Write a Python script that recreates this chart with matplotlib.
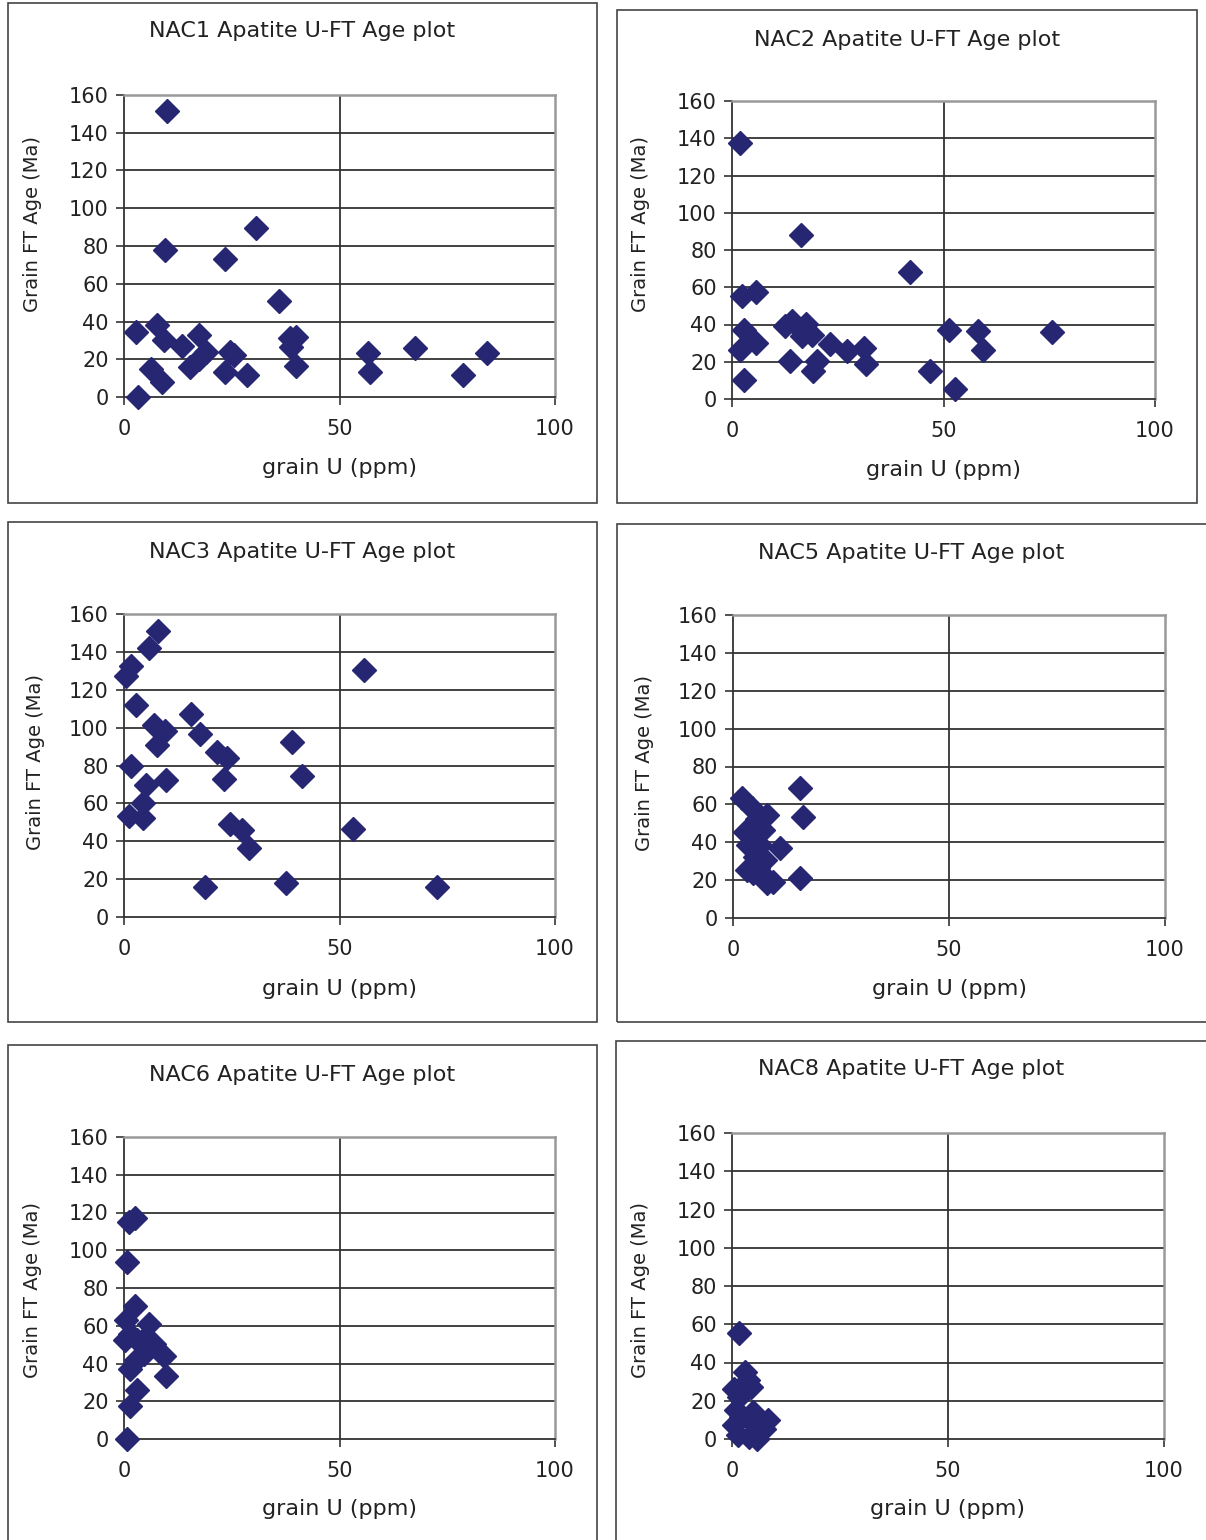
import numpy as np
import matplotlib
matplotlib.use("Agg")
import matplotlib.pyplot as plt
from matplotlib.patches import Rectangle

W, H = 1206, 1540

# grain U (ppm) and grain FT age (Ma)
nac1_u = [10.0, 9.5, 23.5, 30.7, 35.9, 2.7, 7.6, 9.2, 13.4, 17.4, 6.3, 8.8, 3.2,
          15.2, 17.5, 19.0, 24.5, 25.6, 23.5, 28.6, 38.4, 40.0, 38.8, 39.8,
          56.6, 57.1, 67.6, 78.6, 84.2]
nac1_age = [151.6, 77.7, 73.0, 89.4, 50.7, 34.3, 38.3, 30.4, 26.9, 32.7, 15.0, 7.8, 0.0,
            15.9, 20.3, 23.9, 23.9, 22.0, 13.3, 11.5, 31.0, 31.8, 26.5, 16.3,
            23.3, 13.3, 26.0, 11.8, 23.3]

nac2_u = [1.8, 16.3, 42.1, 2.4, 5.7, 2.9, 5.7, 2.0, 2.8, 12.6, 14.2, 17.5, 16.5,
          18.9, 23.2, 27.1, 31.1, 13.6, 20.0, 19.1, 31.6, 46.7, 51.4, 52.7,
          58.2, 59.4, 75.7]
nac2_age = [137.7, 88.3, 68.3, 55.5, 57.6, 37.2, 30.1, 26.1, 10.2, 39.0, 41.7, 40.3, 33.6,
            34.6, 29.5, 25.9, 27.4, 20.2, 20.6, 15.2, 18.6, 15.0, 37.2, 5.2,
            36.7, 26.1, 35.8]

nac3_u = [7.8, 5.9, 1.6, 0.5, 55.6, 2.8, 15.6, 7.0, 9.5, 7.7, 17.6, 21.6, 23.8,
          23.2, 38.9, 41.3, 1.6, 9.7, 5.1, 4.5, 1.2, 4.3, 24.6, 27.3, 29.1,
          18.8, 37.6, 53.2, 72.6]
nac3_age = [151.0, 141.8, 132.5, 127.2, 130.4, 111.9, 107.0, 101.3, 98.3, 90.7, 96.4, 87.2, 83.7,
            73.1, 92.5, 74.5, 79.6, 72.2, 69.6, 60.3, 53.2, 52.5, 49.3, 46.2, 36.5,
            15.9, 18.1, 46.3, 15.9]

nac5_u = [15.5, 16.3, 15.5, 2.0, 4.3, 7.8, 5.5, 2.8, 4.7, 7.0, 3.5, 6.3, 10.9,
          5.1, 7.4, 3.2, 5.9, 7.4, 7.8, 9.3, 4.6]
nac5_age = [68.5, 53.2, 21.0, 63.2, 57.9, 54.4, 52.1, 45.6, 43.8, 46.5, 38.5, 38.5, 36.8,
            32.4, 30.6, 25.3, 26.2, 21.8, 18.3, 19.2, 24.0]

nac6_u = [1.2, 2.5, 0.8, 2.5, 5.8, 0.4, 1.5, 0.2, 3.1, 5.0, 7.0, 9.3, 4.6,
          2.7, 1.5, 9.7, 3.1, 1.5, 0.6]
nac6_age = [115.0, 117.0, 93.8, 70.3, 61.1, 62.8, 55.8, 52.6, 52.2, 54.0, 50.4, 44.2, 45.1,
            41.6, 37.2, 33.3, 25.7, 17.7, 0.0]

nac8_u = [1.7, 2.9, 3.6, 0.5, 4.4, 1.7, 0.9, 2.1, 8.3, 5.2, 7.5, 1.3, 4.0,
          5.9, 0.5, 4.8]
nac8_age = [55.2, 35.1, 30.8, 25.9, 27.3, 22.0, 15.0, 11.5, 9.8, 8.0, 5.4, 1.9, 1.0,
            0.2, 7.2, 14.0]

names = ["NAC1", "NAC2", "NAC3", "NAC5", "NAC6", "NAC8"]
xs = [nac1_u, nac2_u, nac3_u, nac5_u, nac6_u, nac8_u]
ys = [nac1_age, nac2_age, nac3_age, nac5_age, nac6_age, nac8_age]

# pixel layout: chart box (l, t, r, b) and plot area (l, t, r, b)
boxes = [(8, 3, 597, 503), (617, 10, 1197, 503),
         (8, 522, 597, 1022), (617, 524, 1210, 1022),
         (8, 1045, 597, 1545), (616, 1041, 1210, 1545)]
plots = [(124, 95, 555, 397), (732, 101, 1155, 399),
         (124, 614, 555, 917), (733, 615, 1165, 918),
         (124, 1137, 555, 1439), (732, 1133, 1164, 1439)]
# text centres in pixels
title_pos = [(302, 31), (907, 40), (302, 552), (911, 553), (302, 1075), (911, 1069)]
ylab_pos = [(33, 224), (641, 224), (36, 762), (644, 763), (33, 1290), (641, 1290)]
xlab_pos = [(340, 468), (943, 470), (340, 989), (949, 989), (340, 1509), (948, 1509)]

MARK = "#262673"
TXT = "#222222"

fig = plt.figure(figsize=(W / 100, H / 100), dpi=100)
fig.patch.set_facecolor("white")


def fx(px):
    return px / W


def fy(py):
    return 1 - py / H


for i in range(6):
    bl, bt, br, bb = boxes[i]
    fig.add_artist(Rectangle((fx(bl), fy(bb)), fx(br - bl), (bb - bt) / H,
                             transform=fig.transFigure, fill=False,
                             edgecolor="#444444", lw=1.2))

    l, t, r, b = plots[i]
    ax = fig.add_axes([fx(l), fy(b), fx(r - l), (b - t) / H])
    ax.plot(xs[i], ys[i], "D", ms=12, color=MARK, mec=MARK, clip_on=False, zorder=5)
    ax.set_xlim(0, 100)
    ax.set_ylim(0, 160)
    ax.set_xticks([0, 50, 100])
    ax.set_yticks(np.arange(0, 161, 20))
    for v in range(20, 160, 20):
        ax.axhline(v, color="#333333", lw=1.3, zorder=1)
    ax.axvline(50, color="#333333", lw=1.3, zorder=1)
    for s in ["top", "right"]:
        ax.spines[s].set_color("#999999")
        ax.spines[s].set_linewidth(1.8)
    for s in ["left", "bottom"]:
        ax.spines[s].set_color("#333333")
        ax.spines[s].set_linewidth(1.3)
    ax.tick_params(axis="y", direction="out", length=6, width=1.2, color="#333333",
                   labelsize=15, labelcolor=TXT, pad=5)
    ax.tick_params(axis="x", direction="out", length=6, width=1.2, color="#333333",
                   labelsize=15, labelcolor=TXT, pad=10)

    tx, ty = title_pos[i]
    fig.text(fx(tx), fy(ty), f"{names[i]} Apatite U-FT Age plot", fontsize=16,
             color=TXT, ha="center", va="center")
    lx, ly = ylab_pos[i]
    fig.text(fx(lx), fy(ly), "Grain FT Age (Ma)", fontsize=14, color=TXT,
             ha="center", va="center", rotation=90)
    gx, gy = xlab_pos[i]
    fig.text(fx(gx), fy(gy), "grain U (ppm)", fontsize=16, color=TXT,
             ha="center", va="center")

fig.savefig("out.png", dpi=100, facecolor="white")
